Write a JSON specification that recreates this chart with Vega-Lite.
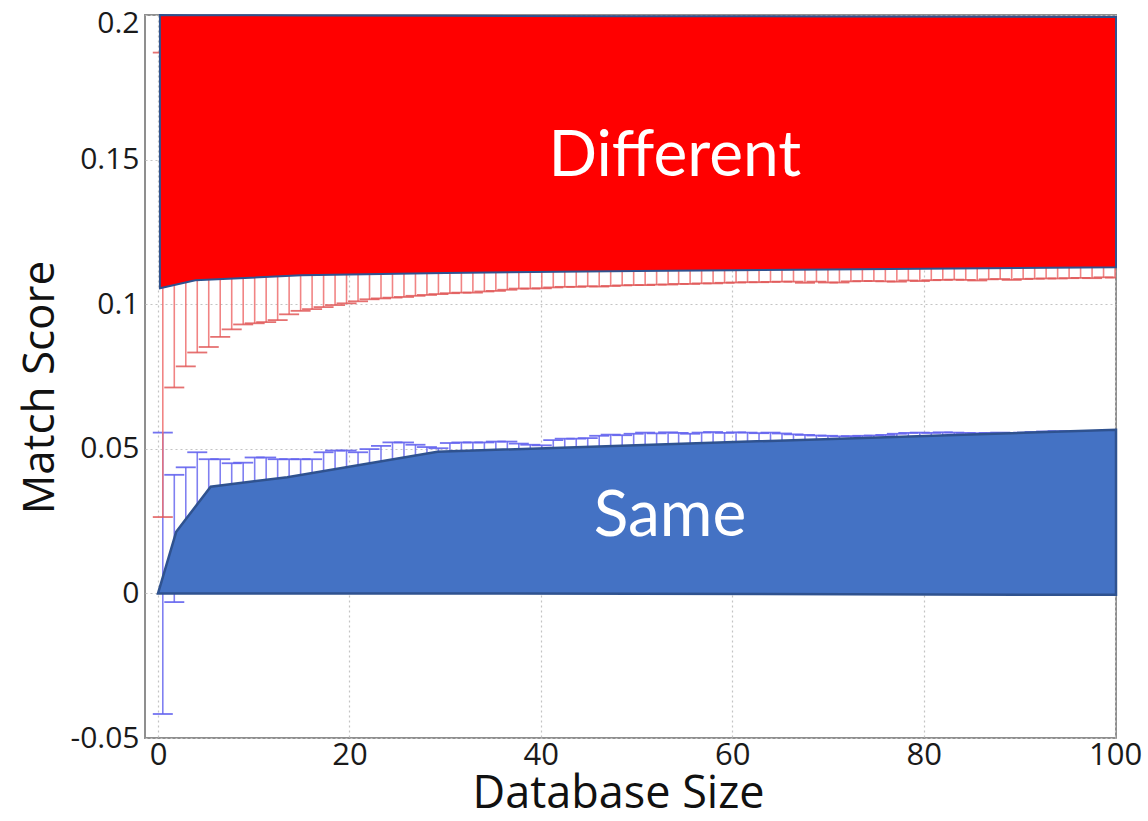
{
  "$schema": "https://vega.github.io/schema/vega-lite/v6.json",
  "width": 971,
  "height": 723,
  "autosize": {"type": "none"},
  "padding": {"left": 145, "top": 15, "right": 32, "bottom": 83},
  "background": "#ffffff",
  "config": {
    "font": "Open Sans",
    "view": {"stroke": "#8f8f8f", "strokeWidth": 2}
  },
  "datasets": {
    "bars": [
      {"x": 0.5, "red_lo": 0.0264, "red_hi": 0.187, "blue_lo": -0.0417, "blue_hi": 0.0556},
      {"x": 1.7, "red_lo": 0.0712, "red_hi": 0.143, "blue_lo": -0.003, "blue_hi": 0.041},
      {"x": 2.9, "red_lo": 0.0785, "red_hi": 0.136, "blue_lo": 0.012, "blue_hi": 0.0436},
      {"x": 4.1, "red_lo": 0.0833, "red_hi": 0.131, "blue_lo": 0.018, "blue_hi": 0.0488},
      {"x": 5.3, "red_lo": 0.0852, "red_hi": 0.129, "blue_lo": 0.022, "blue_hi": 0.0464},
      {"x": 6.5, "red_lo": 0.0887, "red_hi": 0.125, "blue_lo": 0.026, "blue_hi": 0.0464},
      {"x": 7.7, "red_lo": 0.0913, "red_hi": 0.123, "blue_lo": 0.028, "blue_hi": 0.045},
      {"x": 8.9, "red_lo": 0.093, "red_hi": 0.121, "blue_lo": 0.029, "blue_hi": 0.0452},
      {"x": 10.1, "red_lo": 0.0934, "red_hi": 0.121, "blue_lo": 0.03, "blue_hi": 0.047},
      {"x": 11.3, "red_lo": 0.0938, "red_hi": 0.121, "blue_lo": 0.031, "blue_hi": 0.047},
      {"x": 12.5, "red_lo": 0.0945, "red_hi": 0.121, "blue_lo": 0.031, "blue_hi": 0.0464},
      {"x": 13.7, "red_lo": 0.0965, "red_hi": 0.118, "blue_lo": 0.032, "blue_hi": 0.0464},
      {"x": 14.9, "red_lo": 0.0977, "red_hi": 0.118, "blue_lo": 0.033, "blue_hi": 0.0464},
      {"x": 16.1, "red_lo": 0.0983, "red_hi": 0.118, "blue_lo": 0.034, "blue_hi": 0.0464},
      {"x": 17.3, "red_lo": 0.099, "red_hi": 0.118, "blue_lo": 0.034, "blue_hi": 0.0488},
      {"x": 18.5, "red_lo": 0.0997, "red_hi": 0.118, "blue_lo": 0.035, "blue_hi": 0.0494},
      {"x": 19.7, "red_lo": 0.1003, "red_hi": 0.118, "blue_lo": 0.036, "blue_hi": 0.0494},
      {"x": 20.9, "red_lo": 0.101, "red_hi": 0.118, "blue_lo": 0.037, "blue_hi": 0.0488},
      {"x": 22.1, "red_lo": 0.1017, "red_hi": 0.118, "blue_lo": 0.037, "blue_hi": 0.0499},
      {"x": 23.3, "red_lo": 0.102, "red_hi": 0.118, "blue_lo": 0.038, "blue_hi": 0.051},
      {"x": 24.5, "red_lo": 0.1023, "red_hi": 0.118, "blue_lo": 0.038, "blue_hi": 0.0522},
      {"x": 25.7, "red_lo": 0.1025, "red_hi": 0.118, "blue_lo": 0.039, "blue_hi": 0.0522},
      {"x": 26.9, "red_lo": 0.1029, "red_hi": 0.118, "blue_lo": 0.04, "blue_hi": 0.0514},
      {"x": 28.1, "red_lo": 0.1032, "red_hi": 0.118, "blue_lo": 0.041, "blue_hi": 0.0506},
      {"x": 29.3, "red_lo": 0.1035, "red_hi": 0.116, "blue_lo": 0.042, "blue_hi": 0.0502},
      {"x": 30.5, "red_lo": 0.1038, "red_hi": 0.116, "blue_lo": 0.042, "blue_hi": 0.052},
      {"x": 31.7, "red_lo": 0.104, "red_hi": 0.116, "blue_lo": 0.042, "blue_hi": 0.0522},
      {"x": 32.9, "red_lo": 0.104, "red_hi": 0.116, "blue_lo": 0.042, "blue_hi": 0.0522},
      {"x": 34.1, "red_lo": 0.1044, "red_hi": 0.116, "blue_lo": 0.042, "blue_hi": 0.0522},
      {"x": 35.3, "red_lo": 0.1046, "red_hi": 0.116, "blue_lo": 0.042, "blue_hi": 0.0525},
      {"x": 36.5, "red_lo": 0.105, "red_hi": 0.116, "blue_lo": 0.042, "blue_hi": 0.0525},
      {"x": 37.7, "red_lo": 0.1054, "red_hi": 0.116, "blue_lo": 0.042, "blue_hi": 0.0518},
      {"x": 38.9, "red_lo": 0.1054, "red_hi": 0.116, "blue_lo": 0.042, "blue_hi": 0.0514},
      {"x": 40.1, "red_lo": 0.1055, "red_hi": 0.116, "blue_lo": 0.042, "blue_hi": 0.0512},
      {"x": 41.3, "red_lo": 0.1058, "red_hi": 0.116, "blue_lo": 0.042, "blue_hi": 0.053},
      {"x": 42.5, "red_lo": 0.106, "red_hi": 0.116, "blue_lo": 0.042, "blue_hi": 0.0535},
      {"x": 43.7, "red_lo": 0.106, "red_hi": 0.116, "blue_lo": 0.042, "blue_hi": 0.0535},
      {"x": 44.9, "red_lo": 0.1062, "red_hi": 0.116, "blue_lo": 0.042, "blue_hi": 0.0537},
      {"x": 46.1, "red_lo": 0.1061, "red_hi": 0.116, "blue_lo": 0.042, "blue_hi": 0.0545},
      {"x": 47.3, "red_lo": 0.1063, "red_hi": 0.116, "blue_lo": 0.042, "blue_hi": 0.0549},
      {"x": 48.5, "red_lo": 0.1065, "red_hi": 0.116, "blue_lo": 0.042, "blue_hi": 0.0547},
      {"x": 49.7, "red_lo": 0.1066, "red_hi": 0.116, "blue_lo": 0.045, "blue_hi": 0.0552},
      {"x": 50.9, "red_lo": 0.1066, "red_hi": 0.116, "blue_lo": 0.045, "blue_hi": 0.0556},
      {"x": 52.1, "red_lo": 0.1068, "red_hi": 0.116, "blue_lo": 0.045, "blue_hi": 0.0553},
      {"x": 53.3, "red_lo": 0.1068, "red_hi": 0.116, "blue_lo": 0.045, "blue_hi": 0.0557},
      {"x": 54.4, "red_lo": 0.107, "red_hi": 0.116, "blue_lo": 0.045, "blue_hi": 0.0555},
      {"x": 55.6, "red_lo": 0.107, "red_hi": 0.116, "blue_lo": 0.045, "blue_hi": 0.0552},
      {"x": 56.8, "red_lo": 0.1072, "red_hi": 0.116, "blue_lo": 0.045, "blue_hi": 0.0556},
      {"x": 58.0, "red_lo": 0.1072, "red_hi": 0.116, "blue_lo": 0.045, "blue_hi": 0.0558},
      {"x": 59.2, "red_lo": 0.1074, "red_hi": 0.116, "blue_lo": 0.045, "blue_hi": 0.0555},
      {"x": 60.4, "red_lo": 0.1075, "red_hi": 0.116, "blue_lo": 0.045, "blue_hi": 0.0557},
      {"x": 61.6, "red_lo": 0.1076, "red_hi": 0.116, "blue_lo": 0.045, "blue_hi": 0.0556},
      {"x": 62.8, "red_lo": 0.1076, "red_hi": 0.116, "blue_lo": 0.045, "blue_hi": 0.0554},
      {"x": 64.0, "red_lo": 0.1077, "red_hi": 0.116, "blue_lo": 0.045, "blue_hi": 0.0556},
      {"x": 65.2, "red_lo": 0.1078, "red_hi": 0.116, "blue_lo": 0.045, "blue_hi": 0.0553},
      {"x": 66.4, "red_lo": 0.1078, "red_hi": 0.116, "blue_lo": 0.045, "blue_hi": 0.055},
      {"x": 67.6, "red_lo": 0.1074, "red_hi": 0.116, "blue_lo": 0.045, "blue_hi": 0.0548},
      {"x": 68.8, "red_lo": 0.1078, "red_hi": 0.116, "blue_lo": 0.045, "blue_hi": 0.0546},
      {"x": 70.0, "red_lo": 0.1075, "red_hi": 0.116, "blue_lo": 0.045, "blue_hi": 0.0545},
      {"x": 71.2, "red_lo": 0.1075, "red_hi": 0.116, "blue_lo": 0.045, "blue_hi": 0.0543},
      {"x": 72.4, "red_lo": 0.1079, "red_hi": 0.116, "blue_lo": 0.045, "blue_hi": 0.0544},
      {"x": 73.6, "red_lo": 0.108, "red_hi": 0.116, "blue_lo": 0.045, "blue_hi": 0.0545},
      {"x": 74.8, "red_lo": 0.108, "red_hi": 0.116, "blue_lo": 0.045, "blue_hi": 0.0546},
      {"x": 76.0, "red_lo": 0.1079, "red_hi": 0.116, "blue_lo": 0.045, "blue_hi": 0.0548},
      {"x": 77.2, "red_lo": 0.1078, "red_hi": 0.116, "blue_lo": 0.045, "blue_hi": 0.0552},
      {"x": 78.4, "red_lo": 0.1082, "red_hi": 0.116, "blue_lo": 0.045, "blue_hi": 0.0555},
      {"x": 79.6, "red_lo": 0.108, "red_hi": 0.116, "blue_lo": 0.045, "blue_hi": 0.0556},
      {"x": 80.8, "red_lo": 0.1083, "red_hi": 0.116, "blue_lo": 0.045, "blue_hi": 0.0555},
      {"x": 82.0, "red_lo": 0.1084, "red_hi": 0.116, "blue_lo": 0.045, "blue_hi": 0.0557},
      {"x": 83.2, "red_lo": 0.1085, "red_hi": 0.116, "blue_lo": 0.045, "blue_hi": 0.0556},
      {"x": 84.4, "red_lo": 0.1084, "red_hi": 0.116, "blue_lo": 0.045, "blue_hi": 0.0555},
      {"x": 85.6, "red_lo": 0.1082, "red_hi": 0.116, "blue_lo": 0.045, "blue_hi": 0.0554},
      {"x": 86.8, "red_lo": 0.1086, "red_hi": 0.116, "blue_lo": 0.045, "blue_hi": 0.0555},
      {"x": 88.0, "red_lo": 0.1087, "red_hi": 0.116, "blue_lo": 0.045, "blue_hi": 0.0556},
      {"x": 89.2, "red_lo": 0.1084, "red_hi": 0.116, "blue_lo": 0.045, "blue_hi": 0.0555},
      {"x": 90.4, "red_lo": 0.1087, "red_hi": 0.116, "blue_lo": 0.045, "blue_hi": 0.0556},
      {"x": 91.6, "red_lo": 0.1088, "red_hi": 0.116, "blue_lo": 0.045, "blue_hi": 0.0558},
      {"x": 92.8, "red_lo": 0.1089, "red_hi": 0.116, "blue_lo": 0.045, "blue_hi": 0.056},
      {"x": 94.0, "red_lo": 0.1089, "red_hi": 0.116, "blue_lo": 0.045, "blue_hi": 0.0561},
      {"x": 95.2, "red_lo": 0.109, "red_hi": 0.116, "blue_lo": 0.045, "blue_hi": 0.056},
      {"x": 96.4, "red_lo": 0.1091, "red_hi": 0.116, "blue_lo": 0.045, "blue_hi": 0.0562},
      {"x": 97.6, "red_lo": 0.109, "red_hi": 0.116, "blue_lo": 0.045, "blue_hi": 0.0561},
      {"x": 98.8, "red_lo": 0.1093, "red_hi": 0.116, "blue_lo": 0.045, "blue_hi": 0.0562},
      {"x": 100.0, "red_lo": 0.1092, "red_hi": 0.116, "blue_lo": 0.045, "blue_hi": 0.0562}
    ],
    "different": [
      {"x": 0.2, "edge": 0.1055, "top": 0.2},
      {"x": 3.9, "edge": 0.1083, "top": 0.19995},
      {"x": 15, "edge": 0.11, "top": 0.19985},
      {"x": 30, "edge": 0.1108, "top": 0.1997},
      {"x": 50, "edge": 0.1115, "top": 0.1996},
      {"x": 70, "edge": 0.112, "top": 0.1995},
      {"x": 100.1, "edge": 0.1128, "top": 0.1993}
    ],
    "same": [
      {"x": 0, "edge": 0, "base": 0},
      {"x": 1.9, "edge": 0.0213, "base": 0},
      {"x": 5.5, "edge": 0.0369, "base": 0},
      {"x": 13.5, "edge": 0.0402, "base": 0},
      {"x": 29.2, "edge": 0.049, "base": 0},
      {"x": 100.1, "edge": 0.0566, "base": -0.0005}
    ],
    "labels": [
      {"x": 54.0, "y": 0.1443, "label": "Different"},
      {"x": 53.5, "y": 0.0198, "label": "Same"}
    ]
  },
  "layer": [
    {
      "data": {"name": "bars"},
      "mark": {"type": "rule", "color": "#7272f0", "strokeWidth": 1.6, "opacity": 0.9},
      "encoding": {
        "x": {
          "field": "x", "type": "quantitative", "title": "Database Size",
          "scale": {"domain": [-1.36, 100.1], "nice": false, "zero": false},
          "axis": {
            "values": [0, 20, 40, 60, 80, 100],
            "domain": false,
            "ticks": false,
            "labelFlush": false,
            "labelFont": "Open Sans", "labelFontSize": 31, "labelColor": "#1a1a1a", "labelPadding": 2,
            "grid": true, "gridColor": "#c4c4c4", "gridDash": [2, 3], "gridWidth": 1.2,
            "titleFont": "Open Sans", "titleFontSize": 45, "titleFontWeight": "normal", "titleColor": "#111111",
            "titleX": 473, "titleY": 69, "titleBaseline": "alphabetic", "titleAlign": "center"
          }
        },
        "y": {
          "field": "blue_lo", "type": "quantitative", "title": "Match Score",
          "scale": {"domain": [-0.05, 0.2], "nice": false, "zero": false},
          "axis": {
            "values": [-0.05, 0, 0.05, 0.1, 0.15, 0.2],
            "labelExpr": "'' + datum.value",
            "domain": false,
            "ticks": false,
            "labelFlush": false,
            "labelOffset": {"condition": {"test": "datum.value >= 0.2", "value": 8}, "value": 0},
            "labelFont": "Open Sans", "labelFontSize": 30, "labelColor": "#1a1a1a", "labelPadding": 6,
            "grid": true, "gridColor": "#c4c4c4", "gridDash": [2, 3], "gridWidth": 1.2,
            "titleFont": "Open Sans", "titleFontSize": 44, "titleFontWeight": "normal", "titleColor": "#111111",
            "titleAngle": -90, "titleX": -92, "titleY": 372, "titleBaseline": "alphabetic", "titleAlign": "center"
          }
        },
        "y2": {"field": "blue_hi"}
      }
    },
    {
      "data": {"name": "bars"},
      "mark": {"type": "tick", "orient": "horizontal", "color": "#6464ee", "size": 20, "thickness": 1.8, "opacity": 0.9, "clip": true},
      "encoding": {
        "x": {"field": "x", "type": "quantitative", "title": "Database Size"},
        "y": {"field": "blue_hi", "type": "quantitative", "title": "Match Score"}
      }
    },
    {
      "data": {"name": "bars"},
      "mark": {"type": "tick", "orient": "horizontal", "color": "#6464ee", "size": 20, "thickness": 1.8, "opacity": 0.9, "clip": true},
      "encoding": {
        "x": {"field": "x", "type": "quantitative", "title": "Database Size"},
        "y": {"field": "blue_lo", "type": "quantitative", "title": "Match Score"}
      }
    },
    {
      "data": {"name": "bars"},
      "mark": {"type": "rule", "color": "#ee6e6e", "strokeWidth": 1.6, "opacity": 0.85},
      "encoding": {
        "x": {"field": "x", "type": "quantitative", "title": "Database Size"},
        "y": {"field": "red_lo", "type": "quantitative", "title": "Match Score"},
        "y2": {"field": "red_hi"}
      }
    },
    {
      "data": {"name": "bars"},
      "mark": {"type": "tick", "orient": "horizontal", "color": "#e05858", "size": 20, "thickness": 1.8, "opacity": 0.85, "clip": true},
      "encoding": {
        "x": {"field": "x", "type": "quantitative", "title": "Database Size"},
        "y": {"field": "red_lo", "type": "quantitative", "title": "Match Score"}
      }
    },
    {
      "data": {"name": "bars"},
      "mark": {"type": "tick", "orient": "horizontal", "color": "#e05858", "size": 20, "thickness": 1.8, "opacity": 0.85, "clip": true},
      "encoding": {
        "x": {"field": "x", "type": "quantitative", "title": "Database Size"},
        "y": {"field": "red_hi", "type": "quantitative", "title": "Match Score"}
      }
    },
    {
      "data": {"name": "different"},
      "mark": {"type": "area", "color": "#ff0000", "fill": "#ff0000", "fillOpacity": 1, "stroke": "#2f528f", "strokeWidth": 2, "interpolate": "linear"},
      "encoding": {
        "x": {"field": "x", "type": "quantitative", "title": "Database Size"},
        "y": {"field": "edge", "type": "quantitative", "title": "Match Score"},
        "y2": {"field": "top"}
      }
    },
    {
      "data": {"name": "same"},
      "mark": {"type": "area", "color": "#4472c4", "fill": "#4472c4", "fillOpacity": 1, "stroke": "#2f528f", "strokeWidth": 2.5, "interpolate": "linear"},
      "encoding": {
        "x": {"field": "x", "type": "quantitative", "title": "Database Size"},
        "y": {"field": "edge", "type": "quantitative", "title": "Match Score"},
        "y2": {"field": "base"}
      }
    },
    {
      "data": {"name": "labels"},
      "mark": {"type": "text", "font": "Lato", "fontSize": 64, "color": "#ffffff", "align": "center", "baseline": "alphabetic"},
      "encoding": {
        "x": {"field": "x", "type": "quantitative", "title": "Database Size"},
        "y": {"field": "y", "type": "quantitative", "title": "Match Score"},
        "text": {"field": "label"}
      }
    }
  ]
}
